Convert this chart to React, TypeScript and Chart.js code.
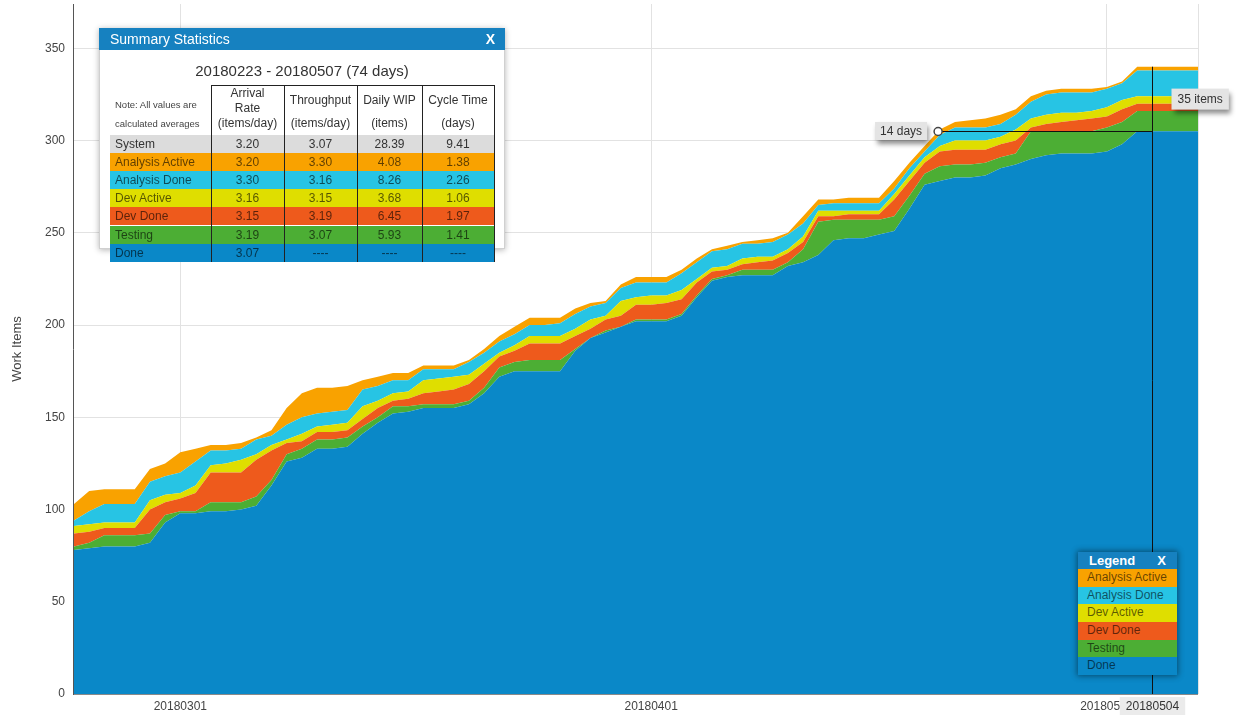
import React, { useEffect, useRef } from "react";
import { Chart, registerables } from "chart.js";

Chart.register(...registerables);

// ---------- data ----------
const dates = [
  "20180222", "20180223", "20180224", "20180225", "20180226", "20180227", "20180228",
  "20180301", "20180302", "20180303", "20180304", "20180305", "20180306", "20180307", "20180308",
  "20180309", "20180310", "20180311", "20180312", "20180313", "20180314", "20180315", "20180316",
  "20180317", "20180318", "20180319", "20180320", "20180321", "20180322", "20180323", "20180324",
  "20180325", "20180326", "20180327", "20180328", "20180329", "20180330", "20180331",
  "20180401", "20180402", "20180403", "20180404", "20180405", "20180406", "20180407", "20180408",
  "20180409", "20180410", "20180411", "20180412", "20180413", "20180414", "20180415", "20180416",
  "20180417", "20180418", "20180419", "20180420", "20180421", "20180422", "20180423", "20180424",
  "20180425", "20180426", "20180427", "20180428", "20180429", "20180430",
  "20180501", "20180502", "20180503", "20180504", "20180505", "20180506", "20180507",
];

// cumulative number of items that have reached each state
const cumAnalysisActive = [
  103, 110, 111, 111, 111, 122, 125, 131, 133, 135,
  135, 136, 139, 143, 155, 163, 166, 166, 167, 170,
  172, 174, 174, 178, 178, 178, 181, 187, 194, 199,
  204, 204, 204, 209, 212, 213, 222, 226, 226, 226,
  230, 236, 241, 243, 245, 246, 247, 250, 259, 268,
  268, 269, 269, 269, 278, 288, 297, 306, 310, 311,
  312, 314, 317, 324, 327, 328, 328, 328, 329, 332,
  340, 340, 340, 340, 340,
];
const cumAnalysisDone = [
  94, 99, 103, 103, 103, 115, 118, 120, 126, 132,
  132, 133, 138, 140, 146, 150, 152, 153, 154, 165,
  167, 170, 170, 176, 176, 176, 180, 185, 191, 195,
  200, 200, 201, 206, 210, 212, 220, 223, 223, 223,
  228, 234, 240, 241, 244, 244, 245, 249, 255, 265,
  266, 266, 266, 266, 274, 285, 294, 303, 307, 307,
  307, 309, 314, 321, 325, 326, 326, 326, 328, 331,
  338, 338, 338, 338, 338,
];
const cumDevActive = [
  91, 92, 93, 93, 93, 105, 108, 109, 113, 124,
  125, 127, 130, 135, 138, 141, 145, 146, 147, 156,
  159, 163, 164, 170, 171, 172, 173, 179, 185, 189,
  194, 194, 194, 198, 203, 205, 213, 215, 216, 216,
  219, 225, 231, 232, 236, 237, 237, 241, 248, 262,
  262, 262, 262, 262, 271, 281, 291, 297, 300, 300,
  300, 302, 306, 312, 314, 315, 315, 316, 318, 322,
  324, 324, 324, 324, 324,
];
const cumDevDone = [
  87, 88, 90, 90, 90, 100, 104, 106, 109, 120,
  120, 120, 127, 132, 136, 137, 142, 142, 143, 149,
  155, 159, 160, 163, 164, 165, 168, 175, 183, 186,
  190, 190, 190, 194, 198, 203, 205, 211, 211, 212,
  214, 223, 229, 230, 233, 234, 235, 239, 245, 259,
  259, 260, 260, 260, 268, 278, 288, 294, 295, 295,
  295, 298, 300, 307, 309, 310, 311, 312, 313, 317,
  320, 320, 320, 320, 320,
];
const cumTesting = [
  80, 82, 86, 86, 86, 87, 97, 99, 99, 104,
  104, 104, 107, 116, 130, 133, 138, 138, 139, 145,
  150, 156, 156, 157, 157, 157, 159, 166, 177, 180,
  181, 181, 181, 187, 193, 197, 199, 203, 203, 203,
  206, 216, 225, 227, 230, 230, 230, 234, 241, 256,
  257, 257, 257, 257, 259, 270, 282, 286, 287, 287,
  288, 291, 293, 305, 305, 305, 305, 305, 307, 310,
  316, 316, 316, 316, 316,
];
const cumDone = [
  78, 79, 80, 80, 80, 82, 93, 98, 98, 99,
  99, 100, 102, 113, 126, 128, 133, 133, 134, 141,
  147, 152, 153, 155, 155, 155, 157, 163, 172, 175,
  175, 175, 175, 186, 193, 196, 199, 202, 202, 202,
  205, 215, 224, 226, 227, 227, 227, 232, 234, 238,
  246, 247, 247, 249, 251, 263, 276, 278, 280, 280,
  281, 285, 287, 290, 292, 293, 293, 293, 294, 298,
  305, 305, 305, 305, 305,
];

const yTicks = [0, 50, 100, 150, 200, 250, 300, 350];
const yMax = 374;
const crosshairDate = "20180504";

// summary statistics table
const statTitle = "20180223 - 20180507 (74 days)";
const statLabels = ["System", "Analysis Active", "Analysis Done", "Dev Active", "Dev Done", "Testing", "Done"];
const arrivalRate = ["3.20", "3.20", "3.30", "3.16", "3.15", "3.19", "3.07"];
const throughput = ["3.07", "3.30", "3.16", "3.15", "3.19", "3.07", "----"];
const dailyWip = ["28.39", "4.08", "8.26", "3.68", "6.45", "5.93", "----"];
const cycleTime = ["9.41", "1.38", "2.26", "1.06", "1.97", "1.41", "----"];

// ---------- styles ----------
const FONT = "'Liberation Sans', Arial, Helvetica, sans-serif";
const seriesNames = ["Done", "Testing", "Dev Done", "Dev Active", "Analysis Done", "Analysis Active"];
const seriesData = [cumDone, cumTesting, cumDevDone, cumDevActive, cumAnalysisDone, cumAnalysisActive];
const colorOf: Record<string, string> = {
  "System": "#dcdcdc",
  "Done": "#0a88c8",
  "Testing": "#4cae34",
  "Dev Done": "#ee5a1c",
  "Dev Active": "#dfde00",
  "Analysis Done": "#27c4e4",
  "Analysis Active": "#f9a200",
};
const HEADER_BLUE = "#1681c0";

function drawLabelBox(
  ctx: CanvasRenderingContext2D,
  text: string,
  left: number,
  cy: number,
  padX: number,
  h: number,
  bg: string,
  shadow: boolean
) {
  ctx.save();
  ctx.font = `12px ${FONT}`;
  const w = ctx.measureText(text).width + padX * 2;
  const top = cy - h / 2;
  if (shadow) {
    ctx.shadowColor = "rgba(0,0,0,0.45)";
    ctx.shadowOffsetX = 2;
    ctx.shadowOffsetY = 4;
    ctx.shadowBlur = 5;
  }
  ctx.fillStyle = bg;
  ctx.fillRect(left, top, w, h);
  ctx.restore();
  ctx.save();
  ctx.font = `12px ${FONT}`;
  ctx.fillStyle = "#333";
  ctx.textBaseline = "middle";
  ctx.textAlign = "left";
  ctx.fillText(text, left + padX, cy + 0.5);
  ctx.restore();
  return w;
}

const cfdPlugin = {
  id: "cfdOverlay",
  afterDatasetsDraw(chart: any) {
    const { ctx, chartArea: ca } = chart;
    ctx.save();
    ctx.lineWidth = 1;
    ctx.strokeStyle = "#8a8a8a";
    ctx.beginPath();
    ctx.moveTo(ca.left, ca.bottom + 0.5);
    ctx.lineTo(ca.right, ca.bottom + 0.5);
    ctx.stroke();
    ctx.strokeStyle = "#555";
    ctx.beginPath();
    ctx.moveTo(ca.left - 0.5, ca.top);
    ctx.lineTo(ca.left - 0.5, ca.bottom + 1);
    ctx.stroke();
    ctx.restore();
  },
  afterDraw(chart: any) {
    const { ctx, chartArea: ca } = chart;
    const xs = chart.scales.x;
    const ys = chart.scales.y;
    const idx = dates.indexOf(crosshairDate);
    if (idx < 0) return;
    const doneVal = cumDone[idx];
    const topVal = cumAnalysisActive[idx];
    let cross = 0;
    for (let i = 1; i < cumAnalysisActive.length; i++) {
      if (cumAnalysisActive[i] >= doneVal) {
        const a = cumAnalysisActive[i - 1];
        const b = cumAnalysisActive[i];
        cross = i - 1 + (b === a ? 1 : (doneVal - a) / (b - a));
        break;
      }
    }
    const px = Math.round(xs.getPixelForValue(idx)) + 0.5;
    const pyTop = ys.getPixelForValue(topVal);
    const pyDone = Math.round(ys.getPixelForValue(doneVal)) + 0.5;
    const pxCross = xs.getPixelForValue(cross);

    ctx.save();
    ctx.strokeStyle = "#111";
    ctx.lineWidth = 1;
    ctx.beginPath();
    ctx.moveTo(px, pyTop);
    ctx.lineTo(px, ca.bottom);
    ctx.stroke();
    ctx.beginPath();
    ctx.moveTo(pxCross, pyDone);
    ctx.lineTo(px, pyDone);
    ctx.stroke();
    ctx.restore();

    // cycle time label
    const daysText = `${Math.round(idx - cross)} days`;
    ctx.save();
    ctx.font = `12px ${FONT}`;
    const dw = ctx.measureText(daysText).width + 10;
    ctx.restore();
    drawLabelBox(ctx, daysText, pxCross - 11 - dw, pyDone - 0.5, 5, 18, "#e4e4e4", true);

    ctx.save();
    ctx.beginPath();
    ctx.arc(pxCross, pyDone, 4, 0, Math.PI * 2);
    ctx.fillStyle = "#fff";
    ctx.fill();
    ctx.lineWidth = 1.5;
    ctx.strokeStyle = "#444";
    ctx.stroke();
    ctx.restore();

    // WIP label
    const itemsText = `${topVal - doneVal} items`;
    drawLabelBox(ctx, itemsText, px + 19, (pyTop + pyDone) / 2, 6, 21, "#e4e4e4", true);

    // date label under axis
    ctx.save();
    ctx.font = `12px ${FONT}`;
    const tw = ctx.measureText(crosshairDate).width + 12;
    ctx.restore();
    drawLabelBox(ctx, crosshairDate, px - tw / 2, ca.bottom + 12, 6, 18, "#ebebeb", false);
  },
};

function ChartCanvas() {
  const ref = useRef<HTMLCanvasElement | null>(null);
  useEffect(() => {
    if (!ref.current) return;
    const datasets = seriesNames.map((name, i) => ({
      label: name,
      data: seriesData[i],
      backgroundColor: colorOf[name],
      borderColor: colorOf[name],
      borderWidth: 0,
      pointRadius: 0,
      tension: 0,
      fill: i === 0 ? "origin" : "-1",
    }));
    const chart = new Chart(ref.current, {
      type: "line",
      data: { labels: dates, datasets: datasets as any },
      options: {
        animation: false,
        responsive: false,
        maintainAspectRatio: false,
        layout: { padding: { top: 4, right: 41, left: 0, bottom: 0 } },
        plugins: { legend: { display: false }, tooltip: { enabled: false } },
        scales: {
          x: {
            type: "category",
            offset: false,
            border: { display: false },
            grid: {
              drawTicks: false,
              color: (c: any) => {
                const i = c.index;
                if (i === 0) return "rgba(0,0,0,0)";
                if (i === dates.length - 1) return "#e2e2e2";
                return dates[i] && dates[i].endsWith("01") ? "#e2e2e2" : "rgba(0,0,0,0)";
              },
            },
            ticks: {
              autoSkip: false,
              maxRotation: 0,
              minRotation: 0,
              padding: 5,
              color: "#444",
              font: { family: FONT, size: 12 },
              callback: (_v: any, i: number) => (dates[i] && dates[i].endsWith("01") ? dates[i] : ""),
            },
            afterFit: (s: any) => {
              s.height = 21;
              s.paddingLeft = 0;
              s.paddingRight = 0;
            },
          },
          y: {
            min: 0,
            max: yMax,
            border: { display: false },
            grid: { drawTicks: false, color: "#e2e2e2" },
            afterBuildTicks: (s: any) => {
              s.ticks = yTicks.map((v) => ({ value: v }));
            },
            ticks: {
              padding: 9,
              color: "#444",
              font: { family: FONT, size: 12 },
            },
            title: {
              display: true,
              text: "Work Items",
              color: "#444",
              font: { family: FONT, size: 13 },
              padding: { top: 10, bottom: 0 },
            },
            afterFit: (s: any) => {
              s.width = 74;
              s.paddingTop = 0;
              s.paddingBottom = 0;
            },
          },
        },
      },
      plugins: [cfdPlugin],
    });
    return () => chart.destroy();
  }, []);
  return <canvas ref={ref} width={1239} height={715} style={{ display: "block" }} />;
}

const colWidths = [101, 73, 73, 65, 72];
const statHeaders = [
  { top: ["Arrival", "Rate"], unit: "(items/day)" },
  { top: ["Throughput"], unit: "(items/day)" },
  { top: ["Daily WIP"], unit: "(items)" },
  { top: ["Cycle Time"], unit: "(days)" },
];
const HEADER_H = 49.5;
const ROW_H = 18.2;

function SummaryPanel() {
  const colLeft: number[] = [];
  let acc = 0;
  colWidths.forEach((w) => {
    colLeft.push(acc);
    acc += w;
  });
  const tableW = acc;
  const tableH = HEADER_H + ROW_H * statLabels.length;
  const valueCols = [arrivalRate, throughput, dailyWip, cycleTime];
  return (
    <div
      style={{
        position: "absolute",
        left: 99,
        top: 28,
        width: 406,
        height: 221,
        background: "#fff",
        boxSizing: "border-box",
        border: "1px solid #d0d0d0",
        boxShadow: "0 1px 6px rgba(0,0,0,0.3)",
        fontFamily: FONT,
        color: "#333",
      }}
    >
      <div
        style={{
          position: "absolute",
          left: -1,
          top: -1,
          width: 406,
          height: 22,
          background: HEADER_BLUE,
          color: "#fff",
        }}
      >
        <span style={{ position: "absolute", left: 11, top: 0, fontSize: 14, lineHeight: "22px" }}>
          Summary Statistics
        </span>
        <span style={{ position: "absolute", right: 10, top: 0, fontSize: 14, fontWeight: "bold", lineHeight: "22px" }}>
          X
        </span>
      </div>
      <div
        style={{
          position: "absolute",
          left: 0,
          top: 32,
          width: "100%",
          textAlign: "center",
          fontSize: 15,
          lineHeight: "20px",
        }}
      >
        {statTitle}
      </div>
      <div style={{ position: "absolute", left: 10, top: 56, width: tableW, height: tableH }}>
        {/* note */}
        <div style={{ position: "absolute", left: 5, top: 13.5, fontSize: 9.5, lineHeight: "12px", color: "#444", whiteSpace: "nowrap" }}>
          Note: All values are
        </div>
        <div style={{ position: "absolute", left: 5, top: 32.5, fontSize: 9.5, lineHeight: "12px", color: "#444", whiteSpace: "nowrap" }}>
          calculated averages
        </div>
        {/* header cells */}
        {statHeaders.map((h, i) => (
          <div
            key={"h" + i}
            style={{
              position: "absolute",
              left: colLeft[i + 1],
              top: 0,
              width: colWidths[i + 1],
              height: HEADER_H,
              fontSize: 12,
              textAlign: "center",
            }}
          >
            <div
              style={{
                height: 31,
                display: "flex",
                flexDirection: "column",
                justifyContent: "center",
                lineHeight: "14.5px",
              }}
            >
              {h.top.map((t) => (
                <div key={t}>{t}</div>
              ))}
            </div>
            <div style={{ height: 15, lineHeight: "15px" }}>{h.unit}</div>
          </div>
        ))}
        {/* rows */}
        {statLabels.map((label, r) => (
          <div
            key={label}
            style={{
              position: "absolute",
              left: 0,
              top: HEADER_H + r * ROW_H,
              width: tableW,
              height: ROW_H,
              background: colorOf[label],
              fontSize: 12,
              lineHeight: ROW_H + "px",
              color: r === 0 ? "#333" : "rgba(0,0,0,0.62)",
            }}
          >
            <div style={{ position: "absolute", left: 5, top: 0, whiteSpace: "nowrap" }}>{label}</div>
            {valueCols.map((col, c) => (
              <div
                key={c}
                style={{
                  position: "absolute",
                  left: colLeft[c + 1],
                  top: 0,
                  width: colWidths[c + 1],
                  textAlign: "center",
                }}
              >
                {col[r]}
              </div>
            ))}
          </div>
        ))}
        {/* borders */}
        <div style={{ position: "absolute", left: colLeft[1], top: 0, width: tableW - colLeft[1] + 1, height: 1, background: "#222" }} />
        {[1, 2, 3, 4].map((c) => (
          <div key={"v" + c} style={{ position: "absolute", left: colLeft[c], top: 0, width: 1, height: tableH, background: "#222" }} />
        ))}
        <div style={{ position: "absolute", left: tableW, top: 0, width: 1, height: tableH, background: "#222" }} />
      </div>
    </div>
  );
}

function LegendPanel() {
  const items = [...seriesNames].reverse();
  return (
    <div
      style={{
        position: "absolute",
        left: 1078,
        top: 552,
        width: 99,
        boxShadow: "0 0 6px 1px rgba(0,0,0,0.45)",
        fontFamily: FONT,
      }}
    >
      <div style={{ position: "relative", height: 17, background: HEADER_BLUE, color: "#fff", fontWeight: "bold", fontSize: 13, lineHeight: "17px" }}>
        <span style={{ position: "absolute", left: 11 }}>Legend</span>
        <span style={{ position: "absolute", right: 11 }}>X</span>
      </div>
      {items.map((name) => (
        <div
          key={name}
          style={{
            height: 17.7,
            background: colorOf[name],
            fontSize: 12,
            lineHeight: "17.7px",
            paddingLeft: 9,
            color: "rgba(0,0,0,0.6)",
            whiteSpace: "nowrap",
          }}
        >
          {name}
        </div>
      ))}
    </div>
  );
}

export default function App() {
  return (
    <div style={{ position: "absolute", left: 0, top: 0, width: 1239, height: 715, background: "#fff", overflow: "hidden" }}>
      <ChartCanvas />
      <SummaryPanel />
      <LegendPanel />
    </div>
  );
}
